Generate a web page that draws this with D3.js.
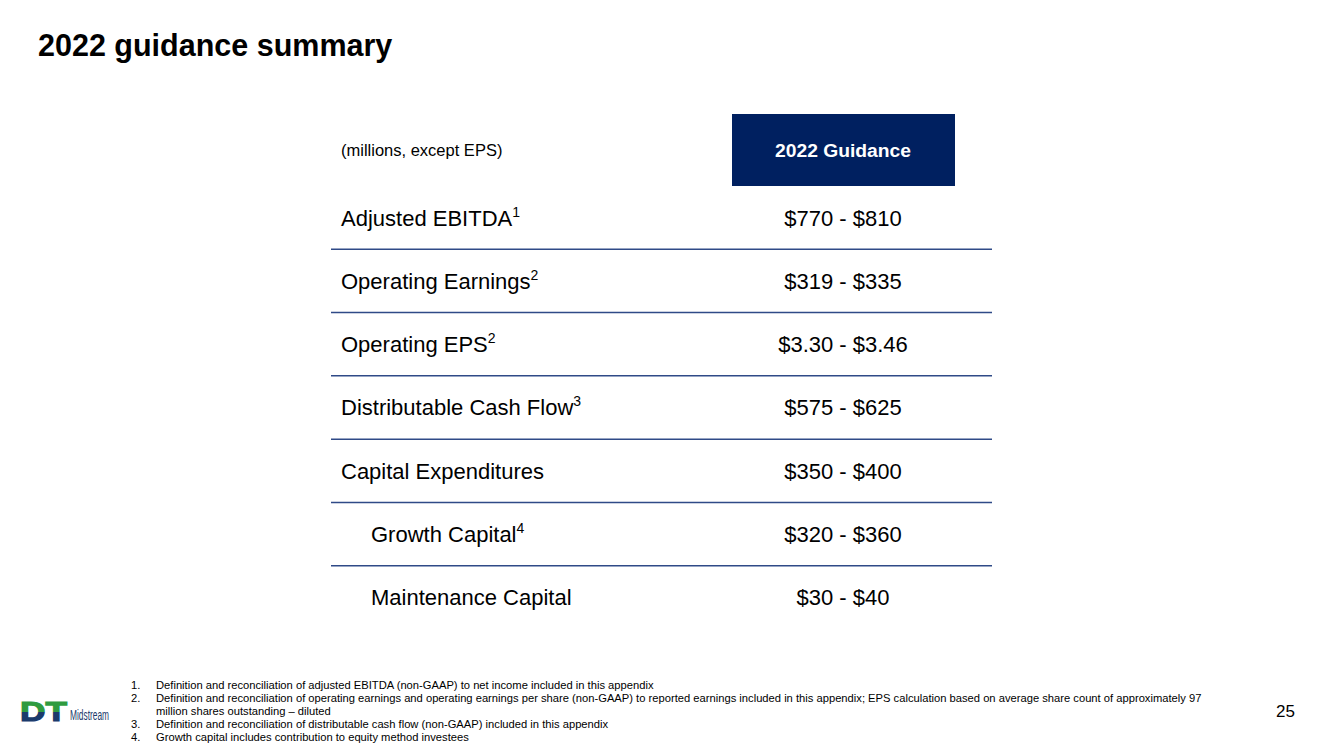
<!DOCTYPE html>
<html>
<head>
<meta charset="utf-8">
<script src="https://cdn.jsdelivr.net/npm/d3@7"></script>
<style>
  body { margin: 0; background: #fff; }
  svg { font-family: "Liberation Sans", Arial, sans-serif; }
</style>
</head>
<body>
<div id="slide"></div>
<script>
const metrics = ["Adjusted EBITDA", "Operating Earnings", "Operating EPS", "Distributable Cash Flow",
    "Capital Expenditures", "Growth Capital", "Maintenance Capital"]
const notes = ["1", "2", "2", "3", "", "4", ""]
const indented = [false, false, false, false, false, true, true]
const guidanceLow = ["$770", "$319", "$3.30", "$575", "$350", "$320", "$30"]
const guidanceHigh = ["$810", "$335", "$3.46", "$625", "$400", "$360", "$40"]

const footnotes = [
    "Definition and reconciliation of adjusted EBITDA (non-GAAP) to net income included in this appendix",
    "Definition and reconciliation of operating earnings and operating earnings per share (non-GAAP) to reported earnings included in this appendix; EPS calculation based on average share count of approximately 97\nmillion shares outstanding \u2013 diluted",
    "Definition and reconciliation of distributable cash flow (non-GAAP) included in this appendix",
    "Growth capital includes contribution to equity method investees"
]

const width = 1323, height = 743
const navy = "#002060"

const svg = d3.select("#slide")
    .append("svg")
    .attr("width", width)
    .attr("height", height)

svg.append("text")
    .attr("x", 38)
    .attr("y", 56)
    .attr("font-size", 30.5)
    .attr("font-weight", "bold")
    .attr("fill", "#000")
    .text("2022 guidance summary")

// table
const tableLeft = 331, tableRight = 992, valueX = 843

const y = d3.scaleBand()
    .domain(metrics)
    .range([186, 629])

const rows = metrics.map((m, i) => ({
    label: m, note: notes[i], indent: indented[i],
    value: `${guidanceLow[i]} - ${guidanceHigh[i]}`
}))

// header
svg.append("rect")
    .attr("x", 732).attr("y", 114)
    .attr("width", 223).attr("height", 72)
    .attr("fill", navy)
svg.append("text")
    .attr("x", 843).attr("y", 157)
    .attr("text-anchor", "middle")
    .attr("font-size", 18)
    .attr("font-weight", "bold")
    .attr("fill", "#fff")
    .attr("textLength", 136)
    .attr("lengthAdjust", "spacingAndGlyphs")
    .text("2022 Guidance")
svg.append("text")
    .attr("x", 341).attr("y", 156)
    .attr("font-size", 16.5)
    .attr("fill", "#000")
    .text("(millions, except EPS)")

const row = svg.append("g")
    .selectAll("g")
    .data(rows)
    .join("g")
    .attr("transform", d => `translate(0,${y(d.label)})`)

const label = row.append("text")
    .attr("x", d => d.indent ? 371 : 341)
    .attr("y", y.bandwidth() / 2 + 8)
    .attr("font-size", 22)
    .attr("fill", "#000")
    .text(d => d.label)
label.append("tspan")
    .attr("font-size", 14)
    .attr("dy", -9)
    .text(d => d.note)

row.append("text")
    .attr("x", valueX)
    .attr("y", y.bandwidth() / 2 + 8)
    .attr("text-anchor", "middle")
    .attr("font-size", 22)
    .attr("fill", "#000")
    .text(d => d.value)

// separators between rows
row.filter((d, i) => i < rows.length - 1)
    .append("line")
    .attr("x1", tableLeft).attr("x2", tableRight)
    .attr("y1", y.bandwidth()).attr("y2", y.bandwidth())
    .attr("stroke", "#2f4a87")
    .attr("stroke-width", 1.5)

// footnotes
let lineY = 689
const fn = svg.append("g").attr("font-size", 11.2).attr("fill", "#000")
footnotes.forEach((t, i) => {
    t.split("\n").forEach((part, j) => {
        if (j === 0) fn.append("text").attr("x", 131).attr("y", lineY).text(`${i + 1}.`)
        fn.append("text").attr("x", 156).attr("y", lineY).text(part)
        lineY += 13
    })
})

svg.append("text")
    .attr("x", 1295).attr("y", 717)
    .attr("text-anchor", "end")
    .attr("font-size", 17)
    .attr("fill", "#000")
    .text("25")

// logo
const logo = svg.append("g").attr("transform", "translate(20,701)")
const defs = svg.append("defs")
const grad = defs.append("linearGradient")
    .attr("id", "dtfill").attr("x1", 0).attr("x2", 0).attr("y1", 0).attr("y2", 1)
grad.append("stop").attr("offset", "50%").attr("stop-color", "#2f9b3f")
grad.append("stop").attr("offset", "50%").attr("stop-color", "#1b3a6b")
logo.append("text")
    .attr("x", 0).attr("y", 20)
    .attr("font-size", 28)
    .attr("font-weight", "bold")
    .attr("fill", "url(#dtfill)")
    .attr("stroke", "url(#dtfill)")
    .attr("stroke-width", 1.2)
    .attr("textLength", 47)
    .attr("lengthAdjust", "spacingAndGlyphs")
    .text("DT")
logo.append("text")
    .attr("x", 50).attr("y", 19)
    .attr("font-size", 14)
    .attr("fill", "#1b3a6b")
    .attr("textLength", 39)
    .attr("lengthAdjust", "spacingAndGlyphs")
    .text("Midstream")
</script>
</body>
</html>
